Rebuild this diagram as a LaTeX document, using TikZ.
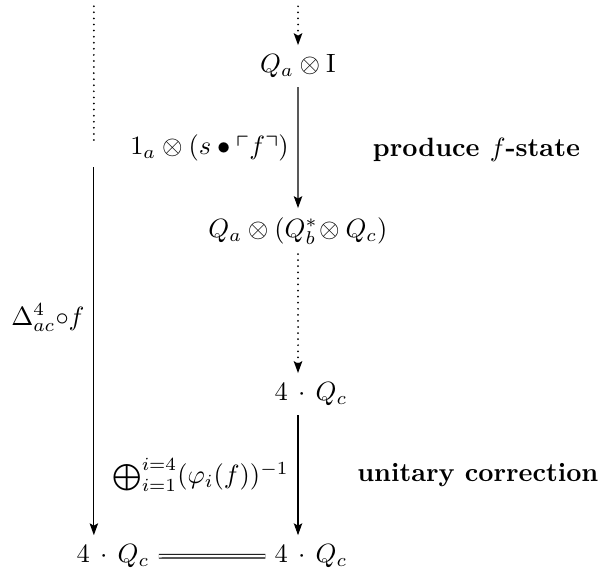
\documentclass[tikz,border=0pt]{standalone}
\usepackage{amsmath,amssymb}
\usetikzlibrary{arrows.meta}
\tikzset{
  mapto/.style={-{Stealth[length=4.5pt,width=3.2pt,inset=0.9pt]}},
  dots/.style={line width=0.75pt,line cap=round,dash pattern=on 0pt off 2.3pt},
  dotmap/.style={mapto,dots},
  note/.style={anchor=west,font=\bfseries},
}
\begin{document}
\begin{tikzpicture}[scale=1.04]
      \useasboundingbox (0,0) rectangle (7.647,-7.315);
      % right column
      \coordinate (rtop) at (3.81,-0.08);
      \node (qi) at (3.81,-0.845) {$Q_a\otimes\mathrm{I}$};
      \node (qs) at (3.81,-2.954) {$Q_a\otimes(Q_b^*\!\otimes Q_c)$};
      \node (fq) at (3.977,-5.038) {$4\,\cdot\,Q_c$};
      \node (br) at (3.977,-7.11) {$4\,\cdot\,Q_c$};
      % left column
      \node (bl) at (1.445,-7.11) {$4\,\cdot\,Q_c$};
      \coordinate (ltop) at (1.20,-0.08);
      \coordinate (lmid) at (1.20,-1.83);
      \coordinate (lstart) at (1.20,-2.135);
      \draw[dotmap] (rtop) -- (qi);
      \draw[mapto] (qi) -- (qs)
        node[midway,left] {$1_a\otimes(s\bullet\ulcorner f\urcorner)$};
      \draw[dotmap] (qs) -- (qs |- fq.north);
      \draw[mapto] (fq.south -| qs) -- (qs |- br.north)
        node[midway,left] {$\bigoplus_{i=1}^{i=4}(\varphi_i(f))^{-1}$};
      \draw[double,double distance=1pt] (bl) -- (br);
      \draw[dots] (ltop) -- (lmid);
      \draw[mapto] (lstart) -- (lstart |- bl.north)
        node[pos=0.41,left] {$\Delta^4_{ac}{\circ}f$};
      \node[note] (prod) at (4.65,-1.918) {produce $f$-state};
      \node[note] (corr) at (4.45,-6.07) {unitary correction};
    \end{tikzpicture}
\end{document}
